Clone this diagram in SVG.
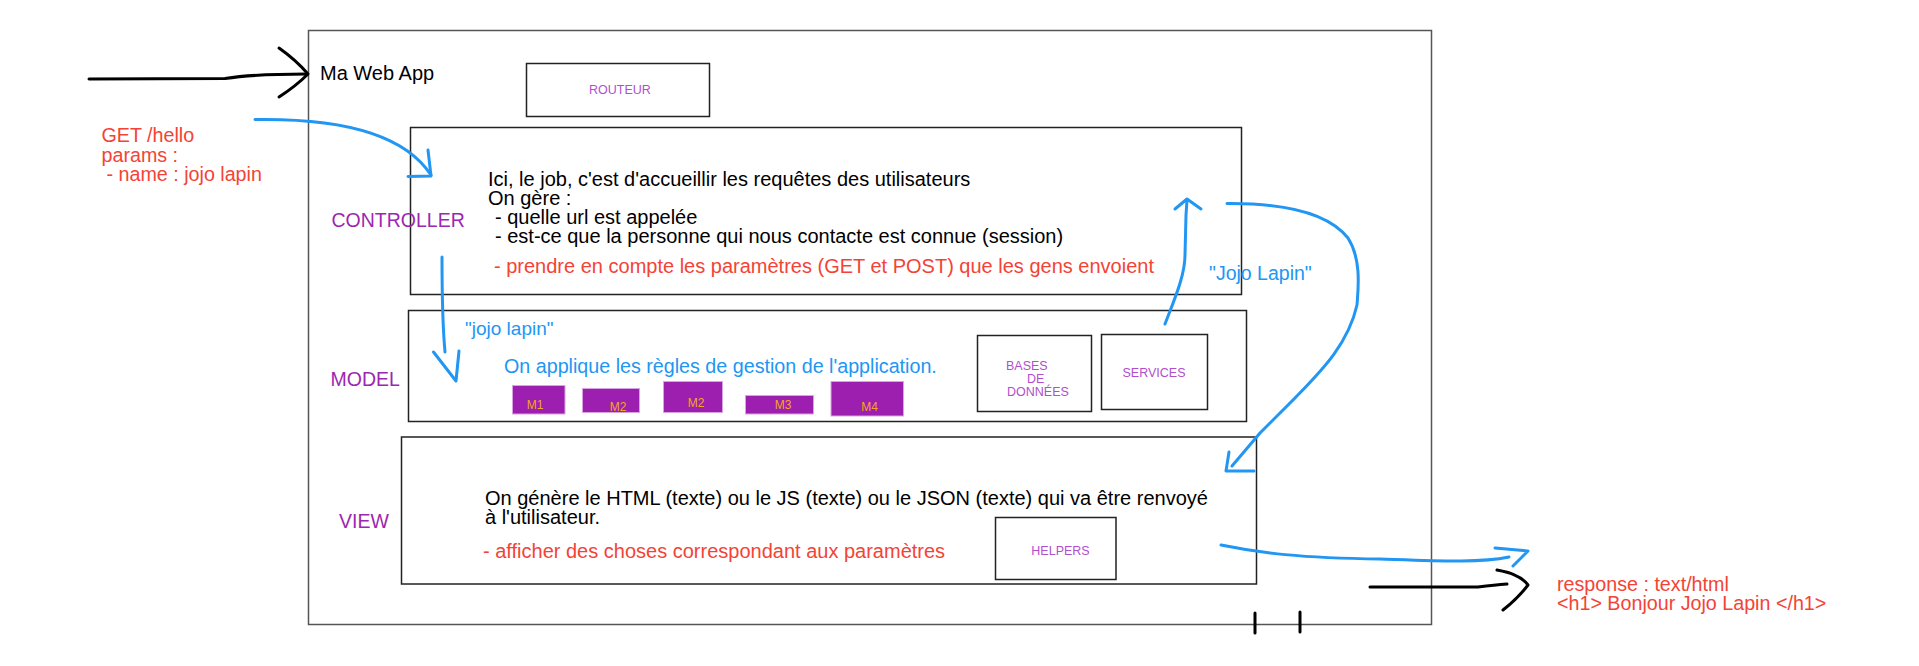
<svg xmlns="http://www.w3.org/2000/svg" width="1919" height="666" viewBox="0 0 1919 666">
<style>
.t{font-family:"Liberation Sans",Arial,sans-serif}
.box{fill:none;stroke:#222;stroke-width:1.5}
.outer{fill:none;stroke:#555;stroke-width:1.5}
.blk{fill:#000;font-size:20px}
.red{fill:#f44336}
.blue{fill:#2196f3}
.lab{fill:#9c27b0;font-size:19.5px}
.small{fill:#b04fcc;font-size:12.5px}
.mbox{fill:#9c1fb0;stroke:#d9a3e3;stroke-width:1}
.mtxt{fill:#f5a623;font-size:12px;text-anchor:middle}
.bl{fill:none;stroke:#2196f3;stroke-width:3;stroke-linecap:round;stroke-linejoin:round}
.bk{fill:none;stroke:#000;stroke-width:3;stroke-linecap:round;stroke-linejoin:round}
</style>
<rect x="0" y="0" width="1919" height="666" fill="#fff"/>

<g id="app">
  <rect class="outer" x="308.5" y="30.5" width="1123" height="594"/>
  <text class="t blk" x="320" y="80">Ma Web App</text>
  <line class="bk" x1="1255" y1="613" x2="1255" y2="633"/>
  <line class="bk" x1="1300" y1="612" x2="1300" y2="632"/>
</g>

<g id="routeur">
  <rect class="box" x="526.5" y="63.5" width="183" height="53"/>
  <text class="t small" x="620" y="94" text-anchor="middle">ROUTEUR</text>
</g>

<g id="controller">
  <rect class="box" x="410.5" y="127.5" width="831" height="167"/>
  <text class="t lab" x="331.5" y="227">CONTROLLER</text>
  <text class="t blk" x="488" y="186">Ici, le job, c'est d'accueillir les requêtes des utilisateurs</text>
  <text class="t blk" x="488" y="205">On gère :</text>
  <text class="t blk" x="495" y="224">- quelle url est appelée</text>
  <text class="t blk" x="495" y="243">- est-ce que la personne qui nous contacte est connue (session)</text>
  <text class="t red" font-size="20" x="494" y="273">- prendre en compte les paramètres (GET et POST) que les gens envoient</text>
</g>

<g id="model">
  <rect class="box" x="408.5" y="310.5" width="838" height="111"/>
  <text class="t lab" x="330.5" y="386">MODEL</text>
  <text class="t blue" font-size="19.7" x="504" y="372.5">On applique les règles de gestion de l'application.</text>
</g>

<g id="m1"><rect class="mbox" x="512.5" y="385.5" width="52.5" height="28.5"/><text class="t mtxt" x="535" y="409">M1</text></g>
<g id="m2a"><rect class="mbox" x="582.5" y="388.5" width="57" height="24"/><text class="t mtxt" x="618" y="411">M2</text></g>
<g id="m2b"><rect class="mbox" x="663.5" y="381.5" width="59" height="31"/><text class="t mtxt" x="696" y="407">M2</text></g>
<g id="m3"><rect class="mbox" x="745.5" y="395.5" width="68" height="18.5"/><text class="t mtxt" x="783" y="409">M3</text></g>
<g id="m4"><rect class="mbox" x="831" y="381.5" width="72.5" height="34.5"/><text class="t mtxt" x="869.5" y="411">M4</text></g>

<g id="bdd">
  <rect class="box" x="977.5" y="335.5" width="114" height="76"/>
  <text class="t small" x="1006" y="370">BASES</text>
  <text class="t small" x="1027" y="383">DE</text>
  <text class="t small" x="1007" y="396">DONNÉES</text>
</g>

<g id="services">
  <rect class="box" x="1101.5" y="334.5" width="106" height="75"/>
  <text class="t small" x="1154" y="377" text-anchor="middle">SERVICES</text>
</g>

<g id="view">
  <rect class="box" x="401.5" y="437" width="855" height="147"/>
  <text class="t lab" x="339" y="528">VIEW</text>
  <text class="t blk" x="485" y="505">On génère le HTML (texte) ou le JS (texte) ou le JSON (texte) qui va être renvoyé</text>
  <text class="t blk" x="485" y="524">à l'utilisateur.</text>
  <text class="t red" font-size="20" x="483" y="558">- afficher des choses correspondant aux paramètres</text>
</g>

<g id="helpers">
  <rect class="box" x="995.5" y="517.5" width="120.5" height="62"/>
  <text class="t small" x="1060.5" y="555" text-anchor="middle">HELPERS</text>
</g>

<g id="request">
  <text class="t red" font-size="19.7" x="101.5" y="141.5">GET /hello</text>
  <text class="t red" font-size="19.7" x="101.5" y="161.5">params :</text>
  <text class="t red" font-size="19.7" x="106.5" y="181">- name : jojo lapin</text>
</g>

<g id="response">
  <text class="t red" font-size="19.7" x="1557" y="590.5">response : text/html</text>
  <text class="t red" font-size="19.7" x="1557" y="610">&lt;h1&gt; Bonjour Jojo Lapin &lt;/h1&gt;</text>
</g>

<g id="connectors">
  <path class="bk" d="M89,79 L225,78.5 Q255,74 306,74"/>
  <path class="bk" d="M279,48 Q296,60 308,74 Q296,86 279,97"/>

  <path class="bl" d="M255,119.5 C345,118 405,135 431,175"/>
  <path class="bl" d="M428,150 L431,176 L408,176.5"/>

  <path class="bl" d="M442,257 C442,300 443,330 445,352"/>
  <path class="bl" d="M433.5,352 L456,381 L459,351"/>
  <text class="t blue" font-size="19" x="465" y="335">"jojo lapin"</text>

  <path class="bl" d="M1165,324 C1175,298 1185,275 1185,255 L1186,215 L1187,200"/>
  <path class="bl" d="M1175,209 L1187,199 L1201,209"/>
  <text class="t blue" font-size="19.5" x="1209" y="280">"Jojo Lapin"</text>

  <path class="bl" d="M1227,203.5 C1290,203 1330,215 1348,238 C1362,260 1358,290 1357,305 C1348,345 1320,372 1295,398 L1260,433 L1232,466"/>
  <path class="bl" d="M1229,452 L1226,471 L1254,471"/>

  <path class="bl" d="M1221,545 C1260,553 1300,558 1380,559 C1440,561 1480,563 1509,557"/>
  <path class="bl" d="M1495,548 L1528,551 L1513,566"/>

  <path class="bk" d="M1370,587 L1478,587 Q1495,585 1507,584"/>
  <path class="bk" d="M1497,570 Q1520,574 1528,585 Q1518,598 1503,610"/>
</g>
</svg>
